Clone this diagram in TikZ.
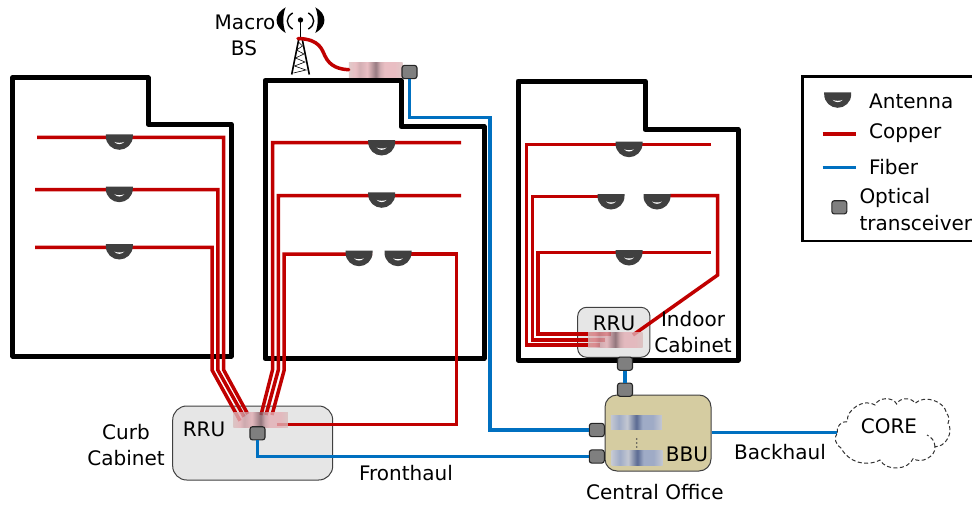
\documentclass[tikz,border=0pt]{standalone}
\usepackage{fontspec}
\setmainfont{DejaVu Sans}
\definecolor{copper}{HTML}{C00000}
\definecolor{fiberc}{HTML}{0070C0}
\definecolor{antc}{HTML}{404040}
\definecolor{xcvr}{HTML}{7F7F7F}
\definecolor{rrufill}{HTML}{E6E6E6}
\definecolor{bbufill}{HTML}{D5CCA1}
\definecolor{pa}{HTML}{D9BCBC}
\definecolor{pb}{HTML}{E3AEB4}
\definecolor{pc}{HTML}{C79AA0}
\definecolor{pd}{HTML}{7D5A62}
\definecolor{ba}{HTML}{C4C8D2}
\definecolor{bb}{HTML}{9FABC6}
\definecolor{bc}{HTML}{5A6A92}
\pgfdeclarehorizontalshading{pinkstrip}{100bp}{color(0bp)=(pa);color(25bp)=(pa);color(31bp)=(pb);color(35bp)=(pc);color(42bp)=(pb);color(50bp)=(pd);color(54bp)=(pc);color(58bp)=(pb);color(68bp)=(pb);color(75bp)=(pa);color(100bp)=(pa)}
\pgfdeclarehorizontalshading{bluestrip}{100bp}{color(0bp)=(ba);color(25bp)=(ba);color(33bp)=(bb);color(41bp)=(ba);color(50bp)=(bc);color(56bp)=(bb);color(66bp)=(bb);color(75bp)=(ba);color(100bp)=(ba)}
\tikzset{
  wall/.style={draw=black,line width=5pt,line join=round},
  copperw/.style={draw=copper,line width=3.5pt,line join=miter},
  fiberw/.style={draw=fiberc,line width=3.5pt,line join=miter},
  txt/.style={font=\fontsize{20}{22}\selectfont,inner sep=0pt,text=black,align=center},
  ltxt/.style={txt,anchor=west,align=left},
  cabbox/.style={rectangle,draw=black!75,line width=1pt,inner sep=0pt},
  xc/.style={rectangle,rounded corners=2.5pt,draw=black!85,line width=1.1pt,fill=xcvr,minimum width=15pt,minimum height=13.2pt,inner sep=0pt},
  pstrip/.style={rectangle,shading=pinkstrip,minimum width=54.5pt,minimum height=14.6pt,inner sep=0pt,opacity=.8},
  bstrip/.style={rectangle,shading=bluestrip,minimum width=51pt,minimum height=14.6pt,inner sep=0pt},
  antenna/.pic={
    \fill[antc] (-13.5,0) -- (13.5,0) -- (13.5,2) .. controls (13.5,10) and (7,15.5) .. (0,15.5) .. controls (-7,15.5) and (-13.5,10) .. (-13.5,2) -- cycle;
    \fill[white] (-5,7.6) .. controls (-2,8.8) and (2,8.8) .. (5,7.6) .. controls (2,10.6) and (-2,10.6) .. cycle;
  }
}
\begin{document}
\begin{tikzpicture}[x=1pt,y=-1pt]
\useasboundingbox (0,0) rectangle (972,506);
% buildings
\draw[wall] (12.7,77.7) -- (148,77.7) -- (148,124) -- (231,124) -- (231,356) -- (12.7,356) -- cycle;
\draw[wall] (265,80.5) -- (401,80.5) -- (401,126.5) -- (484,126.5) -- (484,358.7) -- (265,358.7) -- cycle;
\draw[wall] (518,81) -- (645,81) -- (645,129.5) -- (738,129.5) -- (738,360) -- (518,360) -- cycle;
% cabinets
\node[cabbox,fill=rrufill,rounded corners=14pt,minimum width=160pt,minimum height=74pt] (curb) at (252.7,443) {};
\node[cabbox,fill=rrufill,rounded corners=9pt,minimum width=72.3pt,minimum height=50pt] (indoor) at (613.8,332.3) {};
\node[cabbox,fill=bbufill,rounded corners=12pt,minimum width=106pt,minimum height=76pt] (bbu) at (658,433) {};
% coordinates of the copper ends
\coordinate (cl1) at (240,420.7); \coordinate (cl2) at (244,416.7); \coordinate (cl3) at (247.7,414);
\coordinate (cm1) at (261,415); \coordinate (cm2) at (266,415); \coordinate (cm3) at (272,415);
\coordinate (cm4) at (277,424.5);
% copper, left building
\draw[copperw] (37,137.3) -- (223.7,137.3) -- (223.7,370) -- (cl3);
\draw[copperw] (35,189.7) -- (217.8,189.7) -- (217.8,370) -- (cl2);
\draw[copperw] (35,247.3) -- (212,247.3) -- (212,370) -- (cl1);
% copper, middle building
\draw[copperw] (461,142.7) -- (272.5,142.7) -- (272.5,370) -- (cm1);
\draw[copperw] (461,195.7) -- (278.3,195.7) -- (278.3,370) -- (cm2);
\draw[copperw] (372,254) -- (284.2,254) -- (284.2,370) -- (cm3);
\draw[copperw] (411,254) -- (456.7,254) -- (456.7,424.5) -- (cm4);
% copper, right building
\coordinate (ci1) at (600,345); \coordinate (ci2) at (605,340); \coordinate (ci3) at (610.7,334); \coordinate (ci4) at (633,335);
\draw[copperw] (711,144.7) -- (526.7,144.7) -- (526.7,345) -- (ci1);
\draw[copperw] (600,196.5) -- (532.3,196.5) -- (532.3,340) -- (ci2);
\draw[copperw] (711,252.7) -- (537.8,252.7) -- (537.8,334) -- (ci3);
\draw[copperw] (670,195.5) -- (717.7,195.5) -- (717.7,275) -- (ci4);
% antennas
\pic at (119.3,134.3) {antenna}; \pic at (119.3,186.7) {antenna}; \pic at (119.3,244) {antenna};
\pic at (381.7,140) {antenna}; \pic at (381.7,192.3) {antenna};
\pic at (359,250.7) {antenna}; \pic at (398,250.7) {antenna};
\pic at (629,141.7) {antenna}; \pic at (611,194) {antenna}; \pic at (657,194) {antenna}; \pic at (629,250) {antenna};
% equipment strips
\node[pstrip] (stripC) at (260.5,420) {};
\node[pstrip] (stripI) at (615.3,340) {};
\node[pstrip,minimum width=53.7pt] (stripM) at (375.8,69.7) {};
\node[bstrip] (stripB1) at (636.3,422.5) {};
\node[bstrip] (stripB2) at (637.2,458) {};
\foreach \y in {439,443,447} \fill[black!70] (636.7,\y) circle (0.8);
% transceivers
\node[xc] (tM) at (409.5,72) {};
\node[xc] (tC) at (257.5,433.3) {};
\node[xc] (tI1) at (625,363.7) {};
\node[xc] (tI2) at (625,389.7) {};
\node[xc] (tB1) at (596.8,430) {};
\node[xc] (tB2) at (596.8,456.5) {};
% cloud
\coordinate (cloudW) at (837.3,432.7);
\draw[black!80,line width=1pt,dash pattern=on 4pt off 2.5pt]
  (cloudW) to[bend left=60] (847.3,421.7) to[bend left=65] (875,405) to[bend left=65] (896.7,404)
  to[bend left=65] (915,403.3) to[bend left=60] (946.7,413.3) to[bend left=30] (948,423.3)
  to[bend left=65] (935,446.7) to[bend left=70] (913.3,458.3) to[bend left=65] (880,460)
  to[bend left=45] (841,448) to[bend left=50] (cloudW);
\draw[black!80,line width=1pt,dash pattern=on 4pt off 2.5pt] (935,446.7) to[bend right=30] (927,435);
\node[txt] (coreT) at (889,426) {CORE};
% fibers
\draw[fiberw] (tM.south) -- (409.5,117.3) -- (490,117.3) -- (490,430) -- (tB1.west);
\draw[fiberw] (tC.south) -- (257.5,456.5) -- (tB2.west);
\draw[fiberw] (tI1.south) -- (tI2.north);
\draw[fiberw] (bbu.east |- cloudW) -- (cloudW);
% macro BS
\draw[line width=1.2pt] (300.5,20) -- (300.5,38);
\fill (300.5,20) circle (2.7);
\draw[line width=1.6pt,line join=miter] (291.7,74.5) -- (299,38) (309.3,74.5) -- (302,38);
\draw[line width=.6pt] (298.5,42) -- (302.5,46) -- (296.5,50) -- (304,54) -- (295.5,58) -- (305,62) -- (294.5,66) -- (306,70) -- (293.5,73);
\fill (285.7,7.3) .. controls (273.5,14) and (273.5,26) .. (285.7,33) .. controls (282.5,26) and (282.5,14) .. cycle;
\fill (315.3,7.3) .. controls (327.5,14) and (327.5,26) .. (315.3,33) .. controls (318.5,26) and (318.5,14) .. cycle;
\draw[line width=1.4pt] (292.7,13) .. controls (285.5,17) and (285.5,25) .. (292.7,29);
\draw[line width=1.4pt] (308.3,13) .. controls (315.5,17) and (315.5,25) .. (308.3,29);
\draw[copperw,line cap=round] (298,38.5) .. controls (320,39) and (322,50) .. (325,56) .. controls (330,67) and (340,69.3) .. (stripM.west);
% labels
\node[txt] (lMacro) at (245,22) {Macro};
\node[txt] (lBS) at (244,48) {BS};
\node[txt] (lCurb) at (126,432) {Curb};
\node[txt] (lCab) at (126,458) {Cabinet};
\node[txt] (lRRU1) at (204,429) {RRU};
\node[txt] (lRRU2) at (614,323) {RRU};
\node[txt] (lInd) at (693,319) {Indoor};
\node[txt] (lCab2) at (693,345) {Cabinet};
\node[txt] (lBBU2) at (687,454) {BBU};
\node[txt] (lCO) at (655,492) {Central Office};
\node[txt] (lFH) at (406,473) {Fronthaul};
\node[txt] (lBH) at (780,452) {Backhaul};
% legend
\draw[black,line width=2.5pt] (972,76.7) -- (802.7,76.7) -- (802.7,241) -- (972,241);
\pic at (837.7,92.3) {antenna};
\coordinate (cpA) at (822.7,134); \coordinate (cpB) at (856,134);
\coordinate (fbA) at (822.7,167.3); \coordinate (fbB) at (856,167.3);
\draw[copperw] (cpA) -- (cpB);
\draw[fiberw] (fbA) -- (fbB);
\node[xc] (tL) at (839.3,207.3) {};
\node[ltxt] (lA) at (869,101.7) {Antenna};
\node[ltxt] (lCp) at (869,133) {Copper};
\node[ltxt] (lF) at (869,167) {Fiber};
\node[ltxt] (lO) at (859.3,198) {Optical};
\node[ltxt] (lT) at (859.3,223) {transceiver};
\end{tikzpicture}
\end{document}
